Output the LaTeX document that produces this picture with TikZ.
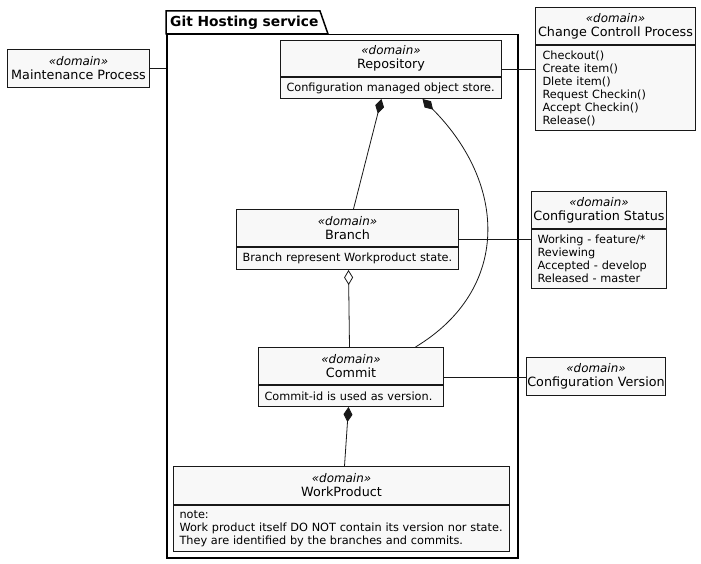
\documentclass[tikz,border=0pt]{standalone}
\usepackage{fontspec}
\setmainfont{DejaVu Sans}
\usetikzlibrary{arrows.meta,calc}
\definecolor{boxfill}{HTML}{F8F8F8}
\definecolor{edgec}{HTML}{181818}
\newcommand\stereodomain{{\fontsize{11.9}{14}\selectfont\itshape «domain»}}
\begin{document}
\begin{tikzpicture}[x=1pt,y=-1pt,
  hdr/.style={draw=edgec, fill=boxfill, line width=1pt, inner sep=0pt, anchor=north west,
    align=center, font=\fontsize{12.75}{14}\selectfont},
  bodybox/.style={draw=edgec, fill=boxfill, line width=1pt, inner xsep=6pt, inner ysep=0pt,
    anchor=north west, align=left, font=\fontsize{11.3}{13}\selectfont},
  conn/.style={draw=edgec, line width=0.8pt},
  comp/.style={{Diamond[length=15pt,width=9pt,fill=edgec]}-},
  aggr/.style={{Diamond[open,length=15pt,width=9pt,fill=white]}-},
  pkgline/.style={draw=black, line width=1.5pt}
]
\useasboundingbox (0,0) rectangle (701,564);

% package
\draw[pkgline, fill=white] (166,11) -- (320,11) -- (328,34) -- (166,34) -- cycle;
\node[pkgline, fill=white, minimum width=351pt, minimum height=523pt, inner sep=0pt, anchor=north west] (pkg) at (166,34) {};
\node[anchor=west, inner sep=0pt, font=\fontsize{13.8}{16}\selectfont\bfseries] (pkgtitle) at (170,22.5) {Git Hosting service};

% Maintenance Process
\node[hdr, minimum width=142pt, minimum height=38pt] (maint) at (7,49) {\stereodomain\\Maintenance Process};

% Repository
\node[hdr, minimum width=221pt, minimum height=36pt] (repo) at (280,40) {\stereodomain\\Repository};
\node[bodybox, text width=209pt, minimum height=21pt] (repob) at (repo.south west) {Configuration managed object store.};

% Change Controll Process
\node[hdr, minimum width=160pt, minimum height=37pt] (ccp) at (535,7) {\stereodomain\\Change Controll Process};
\node[bodybox, text width=146pt, inner xsep=7pt, minimum height=85pt] (ccpb) at (ccp.south west) {Checkout()\\Create item()\\Dlete item()\\Request Checkin()\\Accept Checkin()\\Release()};

% Configuration Status
\node[hdr, minimum width=135pt, minimum height=37pt] (cs) at (531,191) {\stereodomain\\Configuration Status};
\node[bodybox, text width=123pt, minimum height=59pt] (csb) at (cs.south west) {Working - feature/*\\Reviewing\\Accepted - develop\\Released - master};

% Branch
\node[hdr, minimum width=222pt, minimum height=37pt] (branch) at (236,209) {\stereodomain\\Branch};
\node[bodybox, text width=210pt, minimum height=22pt] (branchb) at (branch.south west) {\mbox{Branch represent Workproduct state.}};

% Commit
\node[hdr, minimum width=185pt, minimum height=37pt] (commit) at (258,347) {\stereodomain\\Commit};
\node[bodybox, text width=173pt, minimum height=21pt] (commitb) at (commit.south west) {\mbox{Commit-id is used as version.}};

% Configuration Version
\node[hdr, minimum width=139pt, minimum height=38pt] (cv) at (526,357) {\stereodomain\\Configuration Version};

% WorkProduct
\node[hdr, minimum width=336pt, minimum height=38pt] (wp) at (173,466) {\stereodomain\\WorkProduct};
\node[bodybox, text width=324pt, minimum height=46pt] (wpb) at (wp.south west) {note:\\\mbox{Work product itself DO NOT contain its version nor state.}\\\mbox{They are identified by the branches and commits.}};

% class centres
\coordinate (maintC) at (maint.center);
\coordinate (repoC) at ($(repo.north)!0.5!(repob.south)$);
\coordinate (ccpC) at ($(ccp.north)!0.5!(ccpb.south)$);
\coordinate (branchC) at ($(branch.north)!0.5!(branchb.south)$);
\coordinate (csC) at ($(cs.north)!0.5!(csb.south)$);
\coordinate (commitC) at ($(commit.north)!0.5!(commitb.south)$);

% connectors
\draw[conn] (maint.east) -- (maint.east -| pkg.west);
\draw[conn] (repoC -| repo.east) -- (repoC -| ccp.west);
\draw[conn] (branchC -| branch.east) -- (branchC -| cs.west);
\draw[conn] (commitC -| commit.east) -- (commitC -| cv.west);

\draw[conn, comp] ([xshift=-9.5pt]repob.south) -- ([xshift=6pt]branch.north);
\draw[conn, comp] ([xshift=31.5pt]repob.south) .. controls (508,185) and (510,290) .. ([xshift=64.5pt]commit.north);
\draw[conn, aggr] ([xshift=1pt]branchb.south) -- ([xshift=-1.5pt]commit.north);
\draw[conn, comp] ([xshift=-2.5pt]commitb.south) -- ([xshift=3pt]wp.north);
\end{tikzpicture}
\end{document}
